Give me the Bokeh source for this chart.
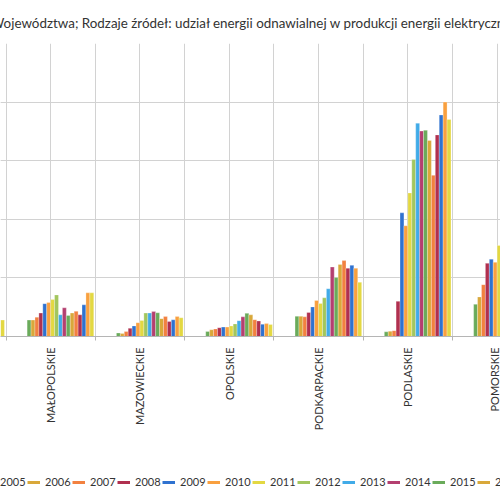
import math
from bokeh.plotting import figure
from bokeh.layouts import column
from bokeh.models import (ColumnDataSource, Range1d, FixedTicker, Grid, Legend,
                          LegendItem)
from bokeh.embed import file_html
from bokeh.resources import INLINE

# ---------------- data ----------------
title_text = ("Województwa; Rodzaje źródeł: udział energii odnawialnej "
              "w produkcji energii elektrycznej")
regions = ["ŁÓDZKIE", "MAŁOPOLSKIE", "MAZOWIECKIE", "OPOLSKIE", "PODKARPACKIE",
           "PODLASKIE", "POMORSKIE"]
years = [str(y) for y in range(2005, 2022)]
nan = float("nan")

lodzkie = [nan, nan, nan, nan, nan, nan, nan, nan, nan, nan, nan, nan, nan,
           nan, nan, nan, 2.8]
malopolskie = [2.8, 2.8, 3.3, 4.0, 5.6, 5.8, 6.3, 7.1, 3.7, 4.9, 3.6, 4.0,
               4.3, 3.7, 5.4, 7.45, 7.45]
mazowieckie = [0.6, 0.5, 0.85, 1.4, 1.8, 2.35, 2.75, 4.0, 4.0, 4.25, 4.05,
               3.05, 3.4, 2.55, 2.85, 3.4, 3.2]
opolskie = [0.85, 1.15, 1.3, 1.5, 1.6, 1.6, 1.8, 2.15, 2.7, 3.35, 3.95, 3.7,
            2.87, 2.65, 2.1, 2.2, 2.05]
podkarpackie = [3.45, 3.45, 3.35, 4.1, 5.05, 6.15, 5.65, 6.6, 8.15, 11.85,
                10.05, 12.3, 12.95, 11.65, 12.15, 11.65, 9.25]
podlaskie = [0.8, 0.9, 1.0, 6.0, 21.1, 18.9, 24.5, 30.2, 36.4, 35.05, 35.2,
             33.45, 27.5, 34.4, 37.8, 40.0, 37.05]
pomorskie = [5.5, 6.75, 8.85, 12.5, 13.2, 12.65, 15.55, 17.9, nan, nan, nan,
             nan, nan, nan, nan, nan, nan]
series = [lodzkie, malopolskie, mazowieckie, opolskie, podkarpackie,
          podlaskie, pomorskie]

year_colors = ["#6AAB5B", "#D9A83A", "#F28140", "#B0304F", "#2F72D0",
               "#F9A03F", "#E3D842", "#A3C65E", "#41ABE8", "#B43F70",
               "#6AAB5B", "#D9A83A", "#F28140", "#B0304F", "#2F72D0",
               "#F9A03F", "#E3D842"]

# ---------------- layout ----------------
TEXT = "#333333"
GRID = "#d2d2d2"

n_slots = 22      # the chart reserves slots for 2000-2021
lead_slots = 5    # 2000-2004 empty
slot_w = 0.0439

p = figure(width=500, height=470, output_backend="svg", toolbar_location=None,
           x_range=Range1d(0.4384, 6.0374), y_range=Range1d(0, 50),
           y_axis_location=None, min_border_left=0, min_border_right=0,
           min_border_top=42, min_border_bottom=134,
           title=title_text)
p.outline_line_color = None
p.background_fill_color = "white"
p.border_fill_color = "white"

p.title.align = "left"
p.title.offset = -10
p.title.text_font = "Lato"
p.title.text_font_size = "13.4px"
p.title.text_font_style = "normal"
p.title.text_color = TEXT
p.title.standoff = 25

centers = list(range(len(regions)))
bounds = [c - 0.5 for c in centers] + [centers[-1] + 0.5]

p.xgrid.ticker = FixedTicker(ticks=centers + bounds)
p.xgrid.grid_line_color = GRID
p.xgrid.grid_line_width = 1

ygrid = Grid(dimension=1, ticker=FixedTicker(ticks=[0, 10, 20, 30, 40, 50]),
             grid_line_color=GRID, grid_line_width=1)
p.add_layout(ygrid)

ax = p.xaxis[0]
ax.ticker = FixedTicker(ticks=centers, minor_ticks=bounds)
ax.major_label_overrides = {c: r for c, r in zip(centers, regions)}
ax.major_label_orientation = math.pi / 2
ax.major_label_text_font = "Lato"
ax.major_label_text_font_size = "11px"
ax.major_label_text_color = TEXT
ax.major_label_standoff = 7
ax.major_tick_line_color = None
ax.major_tick_out = 0
ax.major_tick_in = 0
ax.minor_tick_line_color = "#b5b5b5"
ax.minor_tick_out = 4
ax.minor_tick_in = 0
ax.axis_line_color = "#b5b5b5"

# legend strip below the chart
q = figure(width=500, height=30, output_backend="svg", toolbar_location=None,
           x_range=Range1d(0, 1), y_range=Range1d(0, 1),
           x_axis_location=None, y_axis_location=None, min_border=0)
q.outline_line_color = None
q.xgrid.visible = False
q.ygrid.visible = False

legend_items = []
for k, yr in enumerate(years):
    xs = [c - n_slots * slot_w / 2 + (lead_slots + k + 0.5) * slot_w
          for c in centers]
    tops = [s[k] for s in series]
    src = ColumnDataSource(dict(x=xs, top=tops))
    p.vbar(x="x", top="top", bottom=0, width=slot_w, source=src,
           fill_color=year_colors[k], line_color="white", line_alpha=0.45,
           line_width=0.6)
    lr = q.line(x=[nan], y=[nan], line_color=year_colors[k], line_width=3)
    legend_items.append(LegendItem(label=yr, renderers=[lr]))

legend = Legend(items=legend_items, orientation="horizontal",
                location=(-18, 12), glyph_width=13, glyph_height=12,
                label_standoff=5, label_width=27, label_height=12, spacing=0,
                padding=0, margin=0, border_line_color=None,
                background_fill_alpha=0, label_text_font="Lato",
                label_text_font_size="11px", label_text_color=TEXT)
q.add_layout(legend)

layout = column(p, q, spacing=0)
open("out.html", "w").write(file_html(layout, INLINE))
